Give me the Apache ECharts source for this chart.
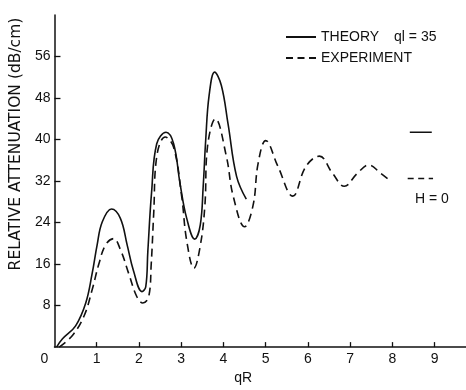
<!DOCTYPE html>
<html>
<head>
<meta charset="utf-8">
<script src="https://cdn.jsdelivr.net/npm/echarts@6/dist/echarts.min.js"></script>
<style>
html,body{margin:0;padding:0;background:#fff;}
#c{width:466px;height:390px;}
</style>
</head>
<body>
<div id="c"></div>
<script>
// ---- data ----
const theoryX = [0.05,0.19,0.5,0.74,0.89,1.01,1.13,1.35,1.56,1.72,1.87,2.07,2.16,2.21,2.30,2.42,2.64,2.82,2.97,3.13,3.32,3.45,3.52,3.58,3.66,3.79,3.95,4.11,4.31,4.54];
const theoryY = [0,1.6,4.1,8.5,14.1,19.7,24.1,26.6,24.8,19.7,14.7,10.7,11.6,18.5,30,39.2,41.4,39.2,31.6,24.8,20.8,23.5,31,40,48.5,53.0,50.4,42.9,32.9,28.5];

const experimentX = [0.11,0.42,0.70,0.89,1.05,1.21,1.40,1.56,1.76,1.95,2.09,2.23,2.29,2.35,2.42,2.62,2.82,3.01,3.13,3.30,3.45,3.56,3.62,3.81,4.07,4.23,4.50,4.70,4.82,5.00,5.29,5.64,5.95,6.27,6.58,6.86,7.17,7.44,7.72,7.91];
const experimentY = [0,2.2,6.0,11.0,16.0,19.7,20.9,18.8,14.1,9.7,8.5,9.7,16.0,26,36.7,40.5,38.5,29.1,20.5,15.2,19.5,27.3,38.5,44.0,36.7,29.1,23.2,27.3,35.4,39.8,34.8,29.1,34.8,36.8,33.5,31.0,33.5,35.1,33.5,32.3];

const h0TheoryX = [8.41, 8.93];
const h0TheoryY = [41.4, 41.4];
const h0ExperimentX = [8.36, 8.96];
const h0ExperimentY = [32.5, 32.5];

const xTickValues = [1,2,3,4,5,6,7,8,9];
const xLabelValues = [0,1,2,3,4,5,6,7,8,9];
const yTickValues = [8,16,24,32,40,48,56];

const seriesNames = ['THEORY', 'EXPERIMENT'];
const qlText = 'ql = 35';
const hText = 'H = 0';
const xName = 'qR';
const yName = 'RELATIVE ATTENUATION (dB/cm)';

// ---- build ----
const zip = (xs, ys) => xs.map((x, i) => [x, ys[i]]);
const FONT = 'Liberation Sans';
const INK = '#111';

const chart = echarts.init(document.getElementById('c'), null, {renderer: 'canvas'});
chart.setOption({
  backgroundColor: '#fff',
  animation: false,
  textStyle: {fontFamily: FONT, color: INK},
  grid: {left: 52, right: 0, top: 15, bottom: 35},
  legend: {
    orient: 'vertical',
    left: 280,
    top: 25,
    itemWidth: 30,
    itemHeight: 14,
    itemGap: 7,
    itemStyle: {opacity: 0, borderWidth: 0},
    data: [
      {name: seriesNames[0]},
      {name: seriesNames[1], lineStyle: {type: [7, 4.5]}}
    ],
    textStyle: {
      fontFamily: FONT, fontSize: 14, color: INK,
      rich: {
        a: {fontFamily: FONT, fontSize: 14, color: INK},
        b: {fontFamily: FONT, fontSize: 14, color: INK, padding: [0, 0, 0, 15]}
      }
    },
    formatter: name => name === seriesNames[0] ? '{a|' + name + '}{b|' + qlText + '}' : '{a|' + name + '}'
  },
  xAxis: {
    type: 'value',
    min: 0,
    max: 9.74,
    interval: 1,
    name: xName,
    nameLocation: 'middle',
    nameGap: 23,
    nameTextStyle: {fontFamily: FONT, fontSize: 14, color: INK, padding: [0, 34, 0, 0]},
    axisLine: {show: true, lineStyle: {color: INK, width: 1.5}},
    axisTick: {show: true, inside: true, length: 5, customValues: xTickValues, lineStyle: {color: INK, width: 1.3}},
    axisLabel: {
      customValues: xLabelValues,
      margin: 5,
      fontFamily: FONT, fontSize: 14, color: INK,
      formatter: v => v === 0 ? '{o|0}' : String(v),
      rich: {o: {fontFamily: FONT, fontSize: 14, color: INK, padding: [0, 20, 0, 0]}}
    },
    splitLine: {show: false}
  },
  yAxis: {
    type: 'value',
    min: 0,
    max: 64,
    interval: 8,
    name: yName,
    nameLocation: 'middle',
    nameRotate: 90,
    nameGap: 23,
    nameTextStyle: {fontFamily: 'DejaVu Sans', fontSize: 15.5, color: INK, padding: [0, 0, 0, 74]},
    axisLine: {show: true, lineStyle: {color: INK, width: 1.5}},
    axisTick: {show: true, inside: true, length: 6, customValues: yTickValues, lineStyle: {color: INK, width: 1.3}},
    axisLabel: {customValues: yTickValues, margin: 4, fontFamily: FONT, fontSize: 14, color: INK},
    splitLine: {show: false}
  },
  graphic: [{
    type: 'text',
    left: 415,
    top: 192,
    style: {text: hText, font: '14px "Liberation Sans"', fill: INK}
  }],
  series: [
    {
      name: seriesNames[0], type: 'line', data: zip(theoryX, theoryY),
      smooth: 0.4, symbol: 'none', color: INK,
      lineStyle: {color: INK, width: 1.6}
    },
    {
      name: seriesNames[1], type: 'line', data: zip(experimentX, experimentY),
      smooth: 0.4, symbol: 'none', color: INK,
      lineStyle: {color: INK, width: 1.6, type: [8, 5]}
    },
    {
      name: 'H0 theory', type: 'line', data: zip(h0TheoryX, h0TheoryY),
      symbol: 'none', color: INK, lineStyle: {color: INK, width: 1.5}
    },
    {
      name: 'H0 experiment', type: 'line', data: zip(h0ExperimentX, h0ExperimentY),
      symbol: 'none', color: INK, lineStyle: {color: INK, width: 1.5, type: [6, 4.5]}
    }
  ]
});
</script>
</body>
</html>
